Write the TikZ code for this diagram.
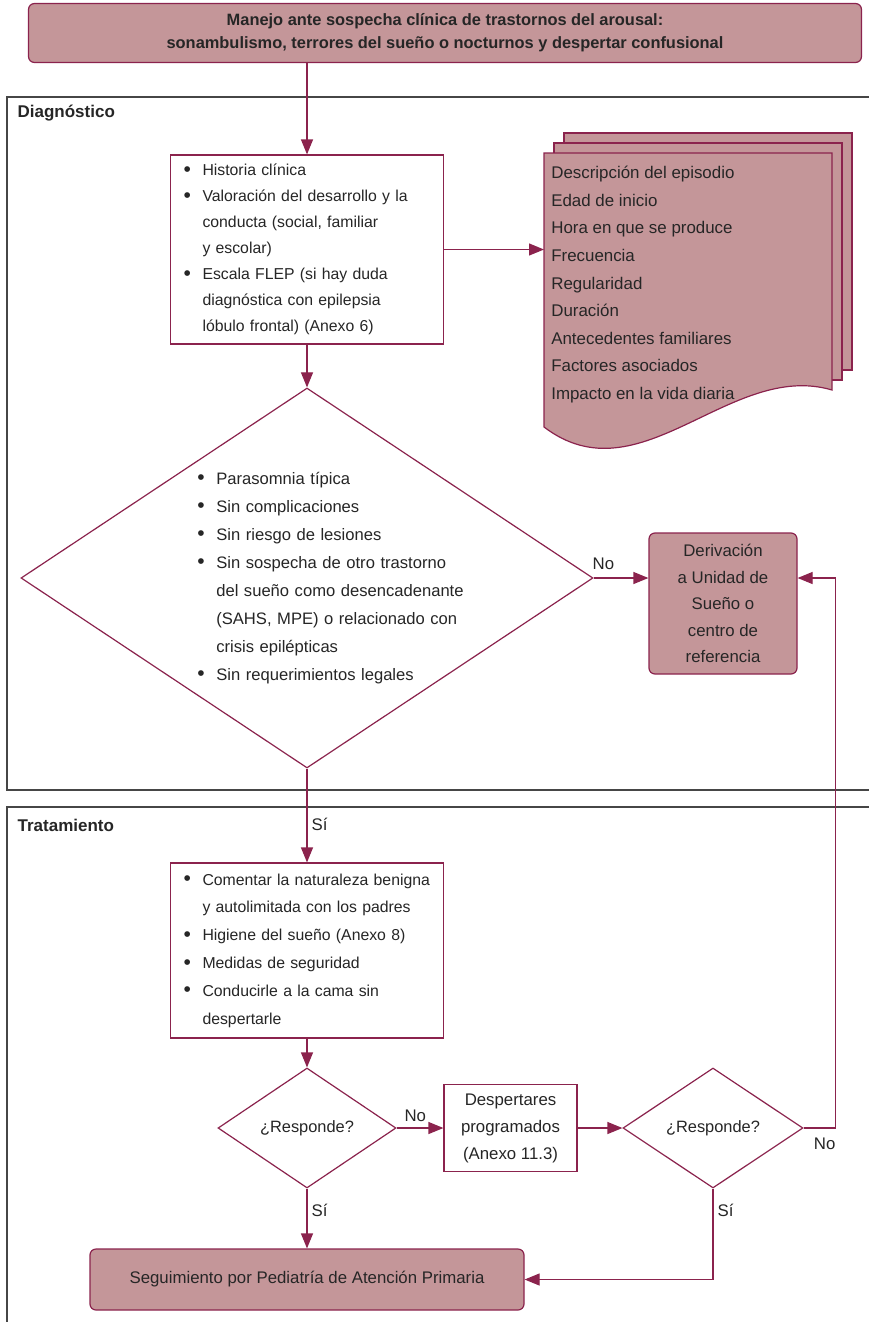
\documentclass[tikz,border=0pt]{standalone}
\usepackage{fontspec}
\setmainfont{Liberation Sans}
\usepackage{tikz}
\usetikzlibrary{positioning, shapes.geometric, arrows.meta}

\definecolor{maroon}{RGB}{139,35,77}
\definecolor{rosefill}{RGB}{196,150,153}
\definecolor{ink}{RGB}{38,38,38}
\definecolor{panelgray}{RGB}{70,70,70}

\newcommand{\bul}{\hangindent=19pt\hangafter=1\noindent\makebox[19pt][l]{\raisebox{-0.6pt}{\fontsize{21}{21}\selectfont\textbullet}}}

\begin{document}
\begin{tikzpicture}[x=1pt, y=1pt, node distance=1cm and 1cm, on grid, semithick,
    box/.style={rectangle, draw=maroon, line width=1.2pt, fill=white, text=ink, align=left, inner xsep=13pt, text width=247pt, font=\fontsize{15.8}{26}\selectfont},
    pinkbox/.style={rectangle, draw=maroon, line width=1.2pt, fill=rosefill, rounded corners=6pt, text=ink, align=center, font=\fontsize{16.8}{26.5}\selectfont},
    decision/.style={diamond, draw=maroon, line width=1.2pt, fill=white, inner sep=0pt, text=ink, font=\fontsize{16.4}{27}\selectfont},
    panel/.style={draw=panelgray, line width=1.3pt},
    heading/.style={text=ink, anchor=west, font=\bfseries\fontsize{17}{20}\selectfont},
    link/.style={draw=maroon, line width=1.2pt},
    flow/.style={link, -{Triangle[length=15pt, width=12pt]}},
    lbl/.style={text=ink, inner sep=4pt, font=\fontsize{16.8}{20}\selectfont}]

    \path[use as bounding box] (0,0) rectangle (869,-1322);
    \clip (0,0) rectangle (869,-1322);

    % Panels
    \draw[panel] (7,-97) rectangle (890,-790);
    \draw[panel] (7,-807) rectangle (890,-1340);
    \node[heading] (diag) at (14,-113) {Diagnóstico};
    \node[heading] (trat) at (14,-825) {Tratamiento};

    % Nodes
    \node[pinkbox, minimum width=833pt, minimum height=59pt, font=\bfseries\fontsize{16.4}{23}\selectfont] (title) at (445,-33)
        {Manejo ante sospecha clínica de trastornos del arousal:\\ sonambulismo, terrores del sueño o nocturnos y despertar confusional};
    \node[box, minimum height=189pt] (hist) at (307,-249.5)
        {\bul Historia clínica\par
         \bul Valoración del desarrollo y la\newline conducta (social, familiar\newline y escolar)\par
         \bul Escala FLEP (si hay duda\newline diagnóstica con epilepsia\newline lóbulo frontal) (Anexo 6)\par};

    % Document stack
    \coordinate (docnw) at (544,-153);
    \foreach \s in {20,10}
        \draw[link, fill=rosefill] ([shift={(\s,\s)}]docnw) rectangle ++(288,-237);
    \draw[link, fill=rosefill] (docnw) -- (832,-153) -- (832,-390)
        .. controls (730,-360) and (640,-500) .. (544,-427) -- cycle;
    \node[anchor=north west, align=left, text=ink, inner xsep=7pt, inner ysep=13pt, font=\fontsize{16.9}{27.6}\selectfont] (doc) at (docnw)
        {Descripción del episodio\\ Edad de inicio\\ Hora en que se produce\\ Frecuencia\\ Regularidad\\ Duración\\ Antecedentes familiares\\ Factores asociados\\ Impacto en la vida diaria};

    \node[decision, minimum width=572pt, minimum height=380pt, below=328.5pt of hist] (crit) {};
    \node[anchor=west, align=left, text=ink, inner sep=0pt, text width=270pt, font=\fontsize{16.6}{28}\selectfont] (critlist) at ([xshift=-110pt]crit.center)
        {\bul Parasomnia típica\par
         \bul Sin complicaciones\par
         \bul Sin riesgo de lesiones\par
         \bul Sin sospecha de otro trastorno\newline del sueño como desencadenante\newline (SAHS, MPE) o relacionado con\newline crisis epilépticas\par
         \bul Sin requerimientos legales\par};
    \node[pinkbox, minimum width=148pt, minimum height=141pt] (deriv) at (723,-603.5)
        {Derivación\\ a Unidad de\\ Sueño o\\ centro de\\ referencia};

    \node[box, minimum height=175pt, below=372.5pt of crit, font=\fontsize{15.8}{27.8}\selectfont] (treat)
        {\bul Comentar la naturaleza benigna\newline y autolimitada con los padres\par
         \bul Higiene del sueño (Anexo 8)\par
         \bul Medidas de seguridad\par
         \bul Conducirle a la cama sin\newline despertarle\par};
    \node[decision, minimum width=178pt, minimum height=120pt, below=177.5pt of treat] (resp1) {¿Responde?};
    \node[box, text width=, align=center, inner xsep=4pt, minimum width=133pt, minimum height=87pt, right=203.5pt of resp1, font=\fontsize{16.8}{27}\selectfont] (wake)
        {Despertares\\ programados\\ (Anexo 11.3)};
    \node[decision, minimum width=180pt, minimum height=120pt, right=406pt of resp1] (resp2) {¿Responde?};
    \node[pinkbox, minimum width=434pt, minimum height=61pt, below=151.5pt of resp1] (follow)
        {Seguimiento por Pediatría de Atención Primaria};

    % Edges
    \coordinate (backin) at (crit.east -| deriv.east);
    \draw[flow] (title.south -| hist.north) -- (hist.north);
    \draw[flow] (hist.east) -- (hist.east -| docnw);
    \draw[flow] (hist) -- (crit);
    \draw[flow] (crit.east) -- node[lbl, above, pos=0.18, yshift=4pt] {No} (crit.east -| deriv.west);
    \draw[flow] (crit) -- node[lbl, right, pos=0.6] {Sí} (treat);
    \draw[flow] (treat) -- (resp1);
    \draw[flow] (resp1) -- node[lbl, above, pos=0.4, yshift=2pt] {No} (wake);
    \draw[flow] (wake) -- (resp2);
    \draw[flow] (resp2.east) -| node[lbl, below, pos=0.33, yshift=-5pt] {No} ([xshift=38pt]backin) -- (backin);
    \draw[flow] (resp1) -- node[lbl, right, pos=0.36] {Sí} (follow);
    \draw[flow] (resp2.south) |- node[lbl, right, pos=0.12] {Sí} (follow.east);

\end{tikzpicture}
\end{document}
